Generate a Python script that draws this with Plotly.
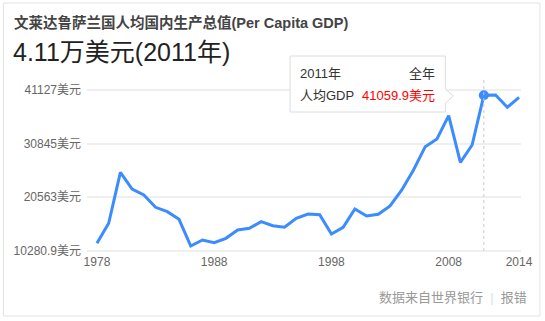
import plotly.graph_objects as go

years = list(range(1978, 2015))
gdp = [10829, 14915, 25335, 21923, 20697, 18184, 17285, 15733, 10280.9, 11503,
       10952, 11851, 13546, 13894, 15242, 14425, 14098, 15937, 16815, 16672,
       12729, 14098, 17837, 16407, 16754, 18450, 21718, 25804, 30565, 32138,
       36898, 27378, 30912, 41059.9, 41127, 38614, 40657]
x_ticks = [1978, 1988, 1998, 2008, 2014]
y_tick_text = ["10280.9美元", "20563美元", "30845美元", "41127美元"]
hl_year = 2011
hl_value = 41059.9

W, H = 545, 321
ML, MR, MT, MB = 87, 22, 88, 68
PW, PH = W - ML - MR, H - MT - MB
# y scale: 41127 at pixel 95, 204.3 per px
def yval(py):
    return 41127 - (py - 95) * 204.3
y_range = [yval(MT + PH), yval(MT)]
grid_px = [250.7, 197.14, 143.57, 90]
tickvals = [yval(p) for p in grid_px]
x_range = [1978 - 10 / 11.78, 2014 + 2 / 11.78]

def px(x):
    return (x - ML) / PW
def py(y):
    return (MT + PH - y) / PH

FONT = "Liberation Sans, Arial, Noto Sans CJK SC"

fig = go.Figure()
fig.add_trace(go.Scatter(x=years, y=gdp, mode="lines",
                         line=dict(color="#3a8cff", width=3), hoverinfo="skip"))
fig.add_trace(go.Scatter(x=[hl_year], y=[hl_value], mode="markers",
                         marker=dict(color="#3a8cff", size=10), hoverinfo="skip"))

shapes = []
# card border
shapes.append(dict(type="rect", xref="paper", yref="paper", x0=px(3), x1=px(542), y0=py(316), y1=py(3),
                   line=dict(color="#e3e3e3", width=1), layer="below"))
# dotted vertical line
shapes.append(dict(type="line", xref="x", yref="paper", x0=hl_year, x1=hl_year, y0=py(251), y1=py(80),
                   line=dict(color="#cccccc", width=1, dash="dot")))
# tooltip box
bx0, bx1, by0, by1 = 291, 447, 56, 112
shapes.append(dict(type="path", xref="paper", yref="paper",
                   path=(f"M {px(bx0)},{py(by0)} L {px(bx1)},{py(by0)} L {px(bx1)},{py(89)} "
                         f"L {px(bx1+8)},{py(96)} L {px(bx1)},{py(103)} L {px(bx1)},{py(by1)} "
                         f"L {px(bx0)},{py(by1)} Z"),
                   fillcolor="white", line=dict(color="#dcdcdc", width=1)))

ann = []
ann.append(dict(x=px(12), y=py(22), xref="paper", yref="paper", xanchor="left", yanchor="middle",
                text="<b>文莱达鲁萨兰国人均国内生产总值(Per Capita GDP)</b>", showarrow=False,
                font=dict(size=14.5, color="#444444", family=FONT)))
ann.append(dict(x=px(11), y=py(52), xref="paper", yref="paper", xanchor="left", yanchor="middle",
                text="4.11万美元(2011年)", showarrow=False,
                font=dict(size=25, color="#222222", family=FONT)))
ann.append(dict(x=px(299), y=py(73), xref="paper", yref="paper", xanchor="left", yanchor="middle",
                text="2011年", showarrow=False, font=dict(size=13, color="#333333", family=FONT)))
ann.append(dict(x=px(439), y=py(73), xref="paper", yref="paper", xanchor="right", yanchor="middle",
                text="全年", showarrow=False, font=dict(size=13, color="#333333", family=FONT)))
ann.append(dict(x=px(299), y=py(95), xref="paper", yref="paper", xanchor="left", yanchor="middle",
                text="人均GDP", showarrow=False, font=dict(size=13, color="#333333", family=FONT)))
ann.append(dict(x=px(439), y=py(95), xref="paper", yref="paper", xanchor="right", yanchor="middle",
                text="41059.9美元", showarrow=False, font=dict(size=13, color="#ff0000", family=FONT)))
ann.append(dict(x=px(531), y=py(297), xref="paper", yref="paper", xanchor="right", yanchor="middle",
                text="数据来自世界银行  <span style='color:#cfe3f5'>|</span>  报错", showarrow=False,
                font=dict(size=13, color="#999999", family=FONT)))

fig.update_layout(
    width=W, height=H, margin=dict(l=ML, r=MR, t=MT, b=MB),
    paper_bgcolor="white", plot_bgcolor="white", showlegend=False,
    shapes=shapes, annotations=ann,
    xaxis=dict(range=x_range, tickmode="array", tickvals=x_ticks, ticktext=[str(t) for t in x_ticks],
               showgrid=False, zeroline=False, showline=False, ticks="",
               tickfont=dict(size=12, color="#666666", family=FONT)),
    yaxis=dict(range=y_range, tickmode="array", tickvals=tickvals, ticktext=y_tick_text,
               showgrid=True, gridcolor="#efefef", gridwidth=2, zeroline=False, showline=False,
               ticks="", ticklabelstandoff=5,
               tickfont=dict(size=12, color="#666666", family=FONT)),
)
fig.write_html("out.html")
